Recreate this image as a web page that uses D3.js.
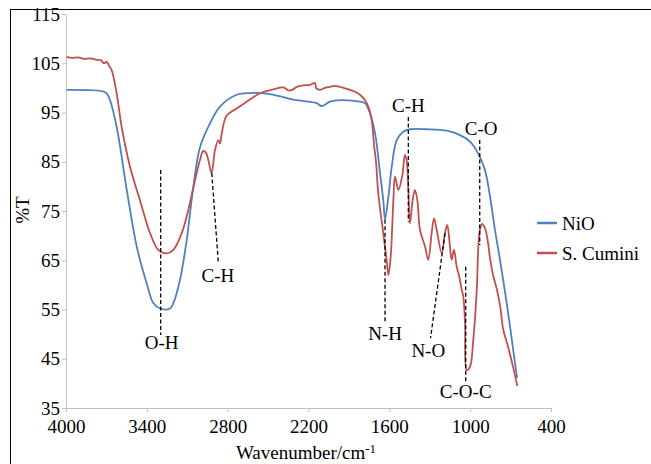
<!DOCTYPE html>
<html lang="en">

<head>
  <meta charset="UTF-8" />
  <title>FTIR NiO / S. Cumini</title>
  <script src="https://d3js.org/d3.v7.min.js"></script>
  <style>
    body {
      margin: 0;
      background: #fff;
    }

    .axis path,
    .axis line {
      stroke: #bfbfbf;
    }
  </style>
</head>

<body>
  <svg id="chart" width="651" height="464"></svg>

  <script>
    // wavenumber (cm-1) and %T
    const nioWave = [3995, 3725, 3698, 3673, 3624, 3549, 3475, 3401, 3352, 3302, 3228, 3203, 3154, 3104, 3055, 3005,
      2931, 2857, 2733, 2584, 2461, 2288, 2139, 2102, 2040, 1966, 1818, 1781, 1743, 1706, 1669, 1645, 1632, 1607,
      1582, 1545, 1496, 1446, 1322, 1174, 1075, 1001, 941, 890, 853, 815, 778, 741, 704, 674, 652];
    const nioT = [99.6, 99.3, 98.9, 97.5, 92.1, 79.3, 67.8, 60.3, 56.3, 55.2, 55.2, 56.3, 61.0, 69.1, 79.9, 88.0,
      92.8, 96.2, 98.6, 99.0, 98.6, 97.5, 96.9, 96.3, 97.2, 97.5, 97.2, 96.9, 94.8, 90.8, 82.7, 77.2, 73.3, 77.9,
      84.0, 89.4, 91.1, 91.6, 91.6, 91.3, 90.4, 89.1, 86.7, 83.3, 78.0, 71.0, 65.0, 58.5, 51.5, 45.5, 41.1];

    const cumWave = [3995, 3955, 3911, 3866, 3822, 3772, 3740, 3718, 3698, 3681, 3661, 3624, 3587, 3525, 3451, 3376,
      3315, 3252, 3203, 3141, 3092, 3042, 3005, 2981, 2961, 2944, 2919, 2894, 2869, 2857, 2844, 2807, 2733, 2659,
      2560, 2461, 2387, 2350, 2322, 2287, 2241, 2189, 2152, 2144, 2115, 2077, 2040, 2003, 1966, 1929, 1892, 1855,
      1818, 1781, 1756, 1731, 1714, 1699, 1682, 1645, 1620, 1607, 1590, 1570, 1558, 1533, 1505, 1484, 1472, 1459,
      1447, 1427, 1410, 1392, 1372, 1335, 1311, 1286, 1268, 1248, 1211, 1187, 1170, 1150, 1137, 1120, 1100, 1081,
      1063, 1051, 1038, 1026, 1001, 977, 951, 939, 927, 912, 890, 867, 853, 830, 801, 777, 755, 718, 682, 650];
    const cumT = [106.3, 106.1, 106.2, 105.9, 106.0, 105.7, 105.6, 105.0, 105.3, 104.5, 103.6, 98.9, 92.1, 84.0, 77.2, 70.5,
      67.1, 66.4, 67.1, 70.5, 75.2, 81.3, 85.4, 87.2, 86.8, 85.4, 82.7, 87.4, 89.4, 88.7, 90.8, 94.4, 95.8, 97.2,
      98.9, 99.7, 100.1, 99.5, 99.6, 100.2, 100.5, 100.6, 101.0, 100.0, 99.6, 100.0, 100.2, 100.4, 100.2, 99.9, 99.6, 99.2,
      98.6, 97.5, 96.2, 93.5, 88.5, 85.0, 78.6, 70.5, 65.1, 62.0, 65.7, 77.2, 82.0, 79.3, 82.0, 86.4, 85.4, 79.9,
      72.5, 77.2, 79.3, 77.2, 71.1, 67.8, 65.1, 70.5, 73.5, 71.1, 66.4, 70.5, 72.2, 67.8, 65.1, 67.1, 63.7, 61.7,
      59.0, 57.6, 52.2, 42.7, 43.4, 48.8, 59.0, 68.0, 71.3, 72.4, 71.5, 68.5, 65.5, 62.0, 59.0, 55.6, 51.0, 47.4, 43.4, 39.5];

    const xTicks = [4000, 3400, 2800, 2200, 1600, 1000, 400];
    const yTicks = [35, 45, 55, 65, 75, 85, 95, 105, 115];

    // band labels: dashed leader [w1, t1, w2, t2] and label position [w, t]
    const bandNames = ["O-H", "C-H", "N-H", "C-H", "N-O", "C-O-C", "C-O"];
    const bandLines = [
      [3297, 83.3, 3297, 49.8],
      [2918, 82.7, 2869, 64.4],
      [1632, 73.2, 1632, 52.2],
      [1459, 94.1, 1459, 72.8],
      [1187, 70.5, 1294, 49.2],
      [1033, 63.7, 1033, 40.1],
      [929, 89.4, 929, 68.1],
    ];
    const bandLabels = [[3290, 48.3], [2872, 62.0], [1632, 50.2], [1459, 96.4], [1311, 46.8], [1033, 38.3], [919, 91.8]];

    const seriesNames = ["NiO", "S. Cumini"];
    const colors = ["#4f81bd", "#c0504d"];

    const FONT = '"Liberation Serif", "Times New Roman", serif';

    const svg = d3.select("#chart");

    const x = d3.scaleLinear().domain([4000, 400]).range([66, 551]);
    const y = d3.scaleLinear().domain([35, 115]).range([408, 14]);

    // outer frame (only top/left visible in picture)
    svg.append("rect")
      .attr("x", 10.5).attr("y", 9.5)
      .attr("width", 700).attr("height", 500)
      .attr("fill", "none").attr("stroke", "#000");

    const xAxis = svg.append("g")
      .attr("class", "axis")
      .attr("transform", `translate(0,${y(35)})`)
      .call(d3.axisBottom(x).tickValues(xTicks).tickFormat(d3.format("d"))
        .tickSize(4).tickSizeOuter(0).tickPadding(8));

    const yAxis = svg.append("g")
      .attr("class", "axis")
      .attr("transform", `translate(${x(4000)},0)`)
      .call(d3.axisLeft(y).tickValues(yTicks).tickSize(4).tickSizeOuter(0).tickPadding(2));

    [xAxis, yAxis].forEach((g) => {
      g.attr("font-family", FONT).attr("font-size", 19);
      g.selectAll("text").style("font-family", FONT).style("font-size", "19px").attr("fill", "#000");
    });

    const line = d3.line()
      .x((d) => x(d[0]))
      .y((d) => y(d[1]))
      .curve(d3.curveCatmullRom.alpha(0.5));

    const series = [d3.zip(nioWave, nioT), d3.zip(cumWave, cumT)];

    series.forEach((s, i) => {
      svg.append("path")
        .datum(s)
        .attr("fill", "none")
        .attr("stroke", colors[i])
        .attr("stroke-width", 1.8)
        .attr("d", line);
    });

    // dashed leaders + labels
    bandLines.forEach((b, i) => {
      svg.append("line")
        .attr("x1", x(b[0])).attr("y1", y(b[1]))
        .attr("x2", x(b[2])).attr("y2", y(b[3]))
        .attr("stroke", "#000")
        .attr("stroke-width", 1.3)
        .attr("stroke-dasharray", "4,2.5");
      svg.append("text")
        .attr("x", x(bandLabels[i][0]))
        .attr("y", y(bandLabels[i][1]))
        .attr("dy", "0.35em")
        .attr("text-anchor", "middle")
        .style("font-family", FONT)
        .style("font-size", "19px")
        .text(bandNames[i]);
    });

    // legend
    const legend = svg.append("g").attr("transform", "translate(537,223)");
    seriesNames.forEach((name, i) => {
      const g = legend.append("g").attr("transform", `translate(0,${i * 30})`);
      g.append("line").attr("x1", 0).attr("x2", 20)
        .attr("stroke", colors[i]).attr("stroke-width", 2.5);
      g.append("text").attr("x", 25).attr("dy", "0.35em")
        .style("font-family", FONT)
        .style("font-size", "19px")
        .text(name);
    });

    // axis titles
    svg.append("text")
      .attr("transform", "translate(22,210) rotate(-90)")
      .attr("text-anchor", "middle")
      .attr("dy", "0.35em")
      .style("font-family", FONT)
      .style("font-size", "19px")
      .text("%T");

    const xt = svg.append("text")
      .attr("x", 306).attr("y", 459)
      .attr("text-anchor", "middle")
      .style("font-family", FONT)
      .style("font-size", "19px")
      .text("Wavenumber/cm");
    xt.append("tspan")
      .attr("dy", "-0.45em")
      .style("font-size", "13px")
      .text("-1");
  </script>
</body>

</html>
